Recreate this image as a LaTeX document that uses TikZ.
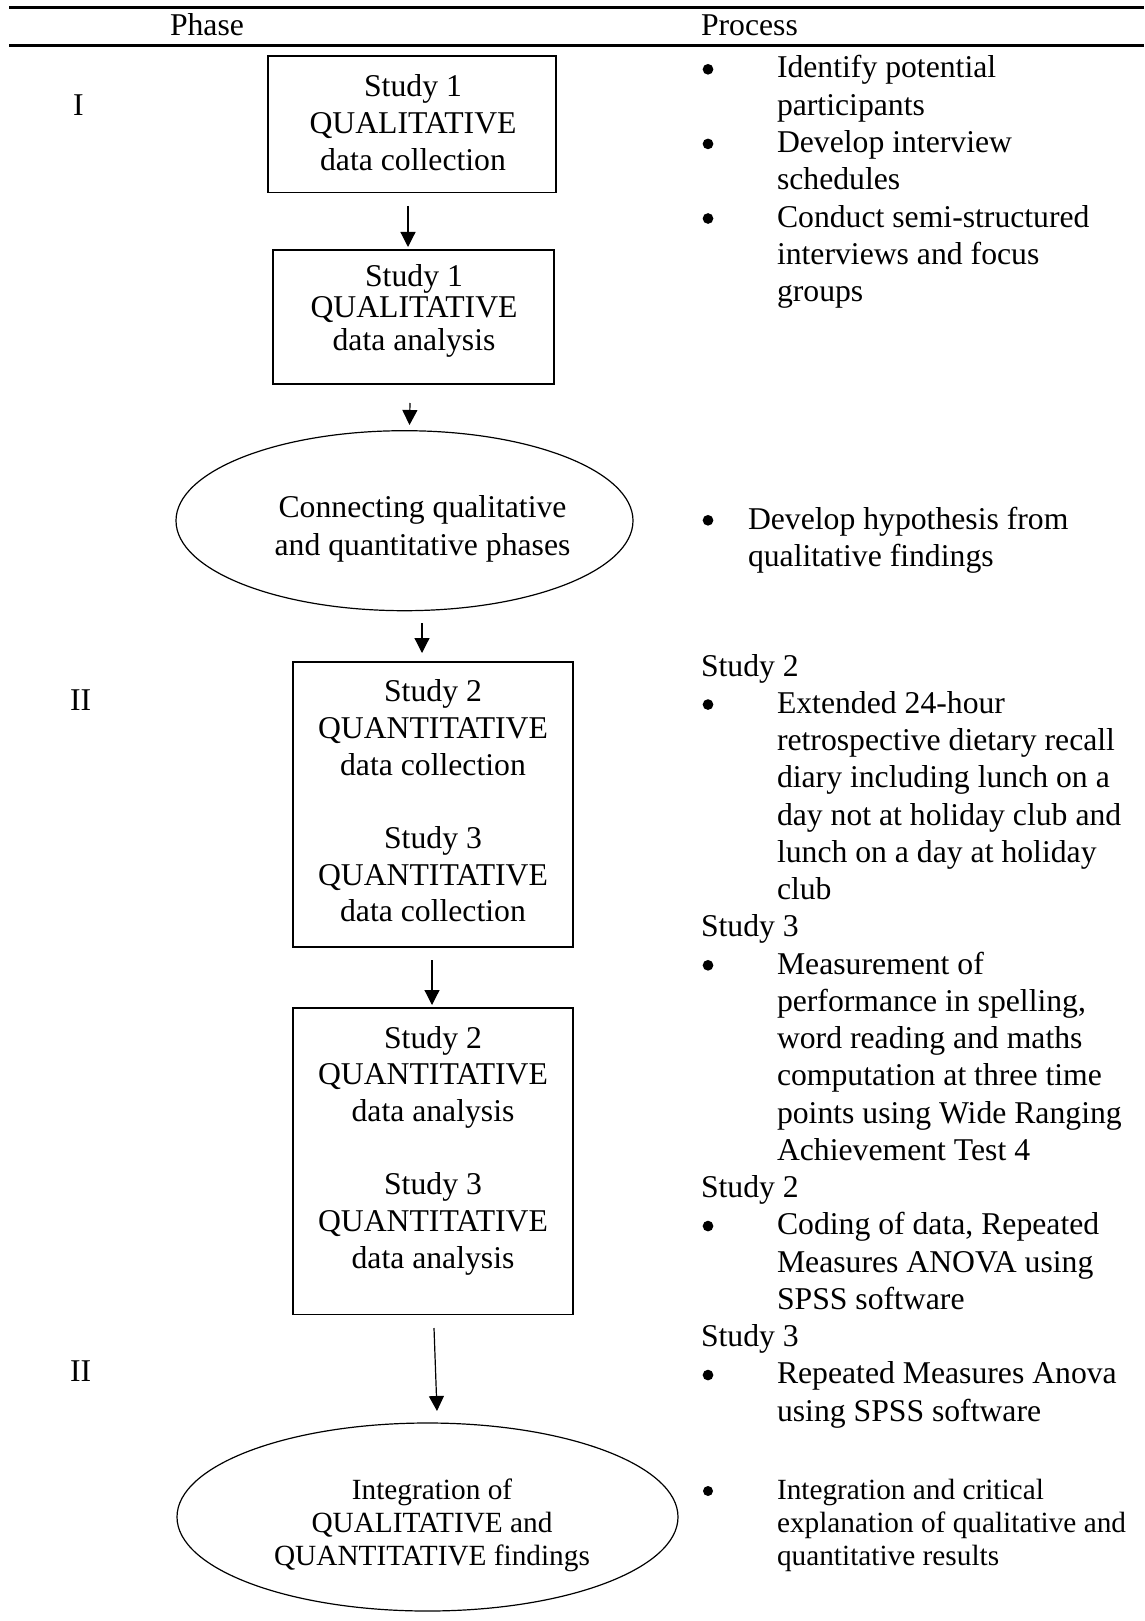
\documentclass[tikz,border=0pt]{standalone}
\usepackage{fontspec}
\setmainfont{Liberation Serif}
\usetikzlibrary{shapes.geometric,arrows.meta,calc}
\newcommand{\tl}[2]{\begin{tabular}[t]{@{}#1@{}}#2\end{tabular}}
\begin{document}
\begin{tikzpicture}[x=1pt,y=-1pt,
  every node/.style={inner sep=0pt, outer sep=0pt, font={\fontsize{31.7}{37.3}\selectfont}},
  txt/.style={font={\fontsize{31.7}{#1}\selectfont}},
  smalltxt/.style={font={\fontsize{29.3}{#1}\selectfont}},
  boxsh/.style={draw, line width=1.8pt, rectangle},
  ellsh/.style={draw, line width=1.2pt, ellipse},
  dot/.style={circle, fill=black, minimum size=#1},
  arr/.style={line width=1.2pt, -{Triangle[width=15pt,length=15pt]}},
  rulesty/.style={line width=2.4pt}]
\fill[white] (0,0) rectangle (1144,1621);
\useasboundingbox (0,0) rectangle (1144,1621);

% header rules and titles
\draw[rulesty] (9,7.5) -- (1144,7.5);
\draw[rulesty] (9,45.5) -- (1144,45.5);
\node[anchor=base] (hphase) at (207,36) {Phase};
\node[anchor=base west] (hproc) at (701,36) {Process};

% phase labels
\node[anchor=base west] (ph1) at (73,116) {I};
\node[anchor=base west] (ph2) at (70,710) {II};
\node[anchor=base west] (ph3) at (70,1381) {II};

% flow shapes
\node[boxsh, minimum width=288pt, minimum height=136.5pt] (b1) at (412,124.25) {};
\node[txt=37, anchor=base] (t1) at (413,96.7) {\tl{c}{Study 1\\QUALITATIVE\\data collection}};

\node[boxsh, minimum width=281pt, minimum height=134pt] (b2) at (413.5,317) {};
\node[txt=32, anchor=base] (t2) at (414,286) {\tl{c}{Study 1\\QUALITATIVE\\data analysis}};

\node[ellsh, minimum width=457pt, minimum height=180pt] (e1) at (404.5,520.7) {};
\node[txt=38, anchor=base] (t3) at (422.5,517) {\tl{c}{Connecting qualitative\\and quantitative phases}};

\node[boxsh, minimum width=280pt, minimum height=285pt] (b3) at (433,804.5) {};
\node[txt=36.7, anchor=base] (t4) at (433,701.7) {\tl{c}{Study 2\\QUANTITATIVE\\data collection\\ \\Study 3\\QUANTITATIVE\\data collection}};

\node[boxsh, minimum width=280pt, minimum height=306.5pt] (b4) at (433,1161.25) {};
\node[txt=36.7, anchor=base] (t5) at (433,1048) {\tl{c}{Study 2\\QUANTITATIVE\\data analysis\\ \\Study 3\\QUANTITATIVE\\data analysis}};

\node[ellsh, minimum width=501pt, minimum height=188pt] (e2) at (427.5,1517) {};
\node[smalltxt=33, anchor=base] (t6) at (432,1499) {\tl{c}{Integration of\\QUALITATIVE and\\QUANTITATIVE findings}};

% arrows
\draw[arr] ($(b1.south)+(-4,13.5)$) -- ($(b2.north)+(-5.5,-3)$);
\draw[arr] ($(b2.south)+(-3.5,19)$) -- ($(e1.north)+(5,-5.7)$);
\draw[arr] ($(e1.south)+(17.5,12.3)$) -- ($(b3.north)+(-11,-9)$);
\draw[arr] ($(b3.south)+(-1,13)$) -- ($(b4.north)+(-1,-3)$);
\draw[arr] ($(b4.south)+(1,13.5)$) -- ($(e2.north)+(9.5,-12)$);

% process column
\node[dot=10.7pt] (bu1) at (708,69.3) {};
\node[dot=10.7pt] (bu2) at (708,143.9) {};
\node[dot=10.7pt] (bu3) at (708,218.5) {};
\node[txt=37.3, anchor=base west] (p1) at (777,78) {\tl{l}{Identify potential\\participants\\Develop interview\\schedules\\Conduct semi-structured\\interviews and focus\\groups}};

\node[dot=10.7pt] (bu4) at (708,520.3) {};
\node[txt=37.3, anchor=base west] (p2) at (748,529) {\tl{l}{Develop hypothesis from\\qualitative findings}};

\node[anchor=base west] (s2a) at (701,676) {Study 2};
\node[dot=10.7pt] (bu5) at (708,704.55) {};
\node[txt=37.25, anchor=base west] (p3) at (777,713.25) {\tl{l}{Extended 24-hour\\retrospective dietary recall\\diary including lunch on a\\day not at holiday club and\\lunch on a day at holiday\\club}};

\node[anchor=base west] (s3a) at (701,936.75) {Study 3};
\node[dot=10.7pt] (bu6) at (708,965.3) {};
\node[txt=37.25, anchor=base west] (p4) at (777,974) {\tl{l}{Measurement of\\performance in spelling,\\word reading and maths\\computation at three time\\points using Wide Ranging\\Achievement Test 4}};

\node[anchor=base west] (s2b) at (701,1197.5) {Study 2};
\node[dot=10.7pt] (bu7) at (708,1226.05) {};
\node[txt=37.25, anchor=base west] (p5) at (777,1234.75) {\tl{l}{Coding of data, Repeated\\Measures ANOVA using\\SPSS software}};

\node[anchor=base west] (s3b) at (701,1346.5) {Study 3};
\node[dot=10.7pt] (bu8) at (708,1375.05) {};
\node[txt=37.25, anchor=base west] (p6) at (777,1383.75) {\tl{l}{Repeated Measures Anova\\using SPSS software}};

\node[dot=10pt] (bu9) at (708,1491) {};
\node[smalltxt=33, anchor=base west] (p7) at (777,1499) {\tl{l}{Integration and critical\\explanation of qualitative and\\quantitative results}};
\end{tikzpicture}
\end{document}
